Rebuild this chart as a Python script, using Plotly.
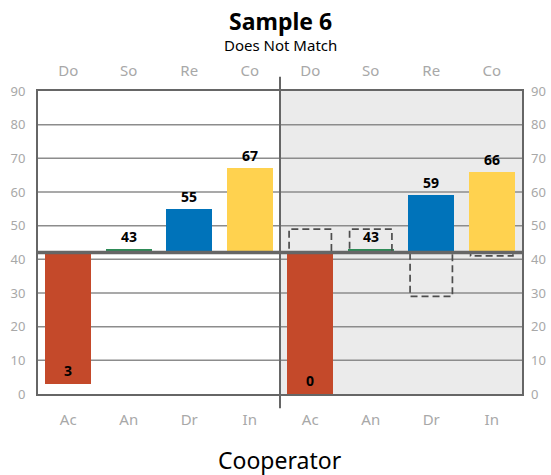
import plotly.graph_objects as go

# ---- data ----
bottom_labels = ["Ac", "An", "Dr", "In", "Ac", "An", "Dr", "In"]
top_labels = ["Do", "So", "Re", "Co", "Do", "So", "Re", "Co"]
values = [3, 43, 55, 67, 0, 43, 59, 66]
compare_values = [None, None, None, None, 49, 49, 29, 41]
bar_colors = ["#C4492A", "#2E8B57", "#0073BA", "#FFD24F",
              "#C4492A", "#2E8B57", "#0073BA", "#FFD24F"]
baseline = 42
y_ticks = [0, 10, 20, 30, 40, 50, 60, 70, 80, 90]
title = "Sample 6"
subtitle = "Does Not Match"
x_title = "Cooperator"

FONT = "Noto Sans"
xs = list(range(len(values)))
n_half = len(values) // 2

fig = go.Figure()
fig.add_trace(go.Bar(
    x=xs, y=[v - baseline for v in values], base=baseline,
    marker=dict(color=bar_colors, line=dict(width=0)),
    width=0.76, hoverinfo="skip", showlegend=False,
))
# invisible trace for top axis
fig.add_trace(go.Scatter(x=xs, y=values, xaxis="x2", yaxis="y2",
                         mode="markers", marker=dict(opacity=0),
                         hoverinfo="skip", showlegend=False))

shapes = []
# gray background for the right half
shapes.append(dict(type="rect", xref="x", yref="paper",
                   x0=n_half - 0.5, x1=len(values) - 0.5, y0=0, y1=1,
                   fillcolor="#EBEBEB", line=dict(width=0), layer="below"))
# gridlines
for t in y_ticks[1:-1]:
    shapes.append(dict(type="line", xref="paper", yref="y", x0=0, x1=1,
                       y0=t, y1=t, line=dict(color="#8C8C8C", width=1.5),
                       layer="below"))
# dashed comparison boxes
for i, cv in enumerate(compare_values):
    if cv is None:
        continue
    shapes.append(dict(type="rect", xref="x", yref="y",
                       x0=i - 0.35, x1=i + 0.35, y0=baseline, y1=cv,
                       line=dict(color="#4D4D4D", width=1.7, dash="7px,4px"),
                       fillcolor="rgba(0,0,0,0)"))
# baseline
shapes.append(dict(type="line", xref="paper", yref="y", x0=0, x1=1,
                   y0=baseline, y1=baseline,
                   line=dict(color="#666666", width=3.5)))
# center divider
shapes.append(dict(type="line", xref="x", yref="paper",
                   x0=n_half - 0.5, x1=n_half - 0.5, y0=-0.047, y1=1.047,
                   line=dict(color="#666666", width=2)))

annotations = []
for i, v in enumerate(values):
    if v >= baseline:
        annotations.append(dict(x=i, y=v, xref="x", yref="y", text=f"<b>{v}</b>",
                                showarrow=False, yanchor="bottom", yshift=1,
                                font=dict(family=FONT, size=14, color="black")))
    else:
        annotations.append(dict(x=i, y=v, xref="x", yref="y", text=f"<b>{v}</b>",
                                showarrow=False, yanchor="bottom", yshift=2,
                                font=dict(family=FONT, size=14, color="black")))
annotations.append(dict(x=0.5, y=1, xref="paper", yref="paper", yanchor="middle",
                        yshift=70, text=f"<b>{title}</b>", showarrow=False,
                        font=dict(family=FONT, size=23, color="black")))
annotations.append(dict(x=0.5, y=1, xref="paper", yref="paper", yanchor="middle",
                        yshift=46, text=subtitle, showarrow=False,
                        font=dict(family=FONT, size=15, color="black")))
annotations.append(dict(x=0.5, y=0, xref="paper", yref="paper", yanchor="middle",
                        yshift=-66, text=x_title, showarrow=False,
                        font=dict(family=FONT, size=23, color="black")))

tickfont = dict(family=FONT, size=15, color="#A8A8A8")
yfont = dict(family=FONT, size=13, color="#A8A8A8")

fig.update_layout(
    width=551, height=475,
    margin=dict(l=38, r=29, t=91, b=81, autoexpand=False),
    paper_bgcolor="white", plot_bgcolor="rgba(0,0,0,0)",
    font=dict(family=FONT),
    shapes=shapes, annotations=annotations,
    xaxis=dict(range=[-0.5, len(values) - 0.5], tickvals=xs, ticktext=bottom_labels,
               tickfont=tickfont, showgrid=False, zeroline=False, automargin=False,
               showline=True, linecolor="#666666", linewidth=2, mirror=True,
               ticks="", ticklabelstandoff=11),
    xaxis2=dict(range=[-0.5, len(values) - 0.5], tickvals=xs, ticktext=top_labels,
                tickfont=tickfont, overlaying="x", side="top", showgrid=False,
                zeroline=False, showline=False, ticks="", automargin=False,
                ticklabelstandoff=11),
    yaxis=dict(range=[0, 90], tickvals=y_ticks, tickfont=yfont, showgrid=False,
               zeroline=False, showline=True, linecolor="#666666", linewidth=2,
               mirror=True, ticks="", ticklabelstandoff=8, automargin=False),
    yaxis2=dict(range=[0, 90], tickvals=y_ticks, tickfont=yfont, overlaying="y",
                side="right", showgrid=False, zeroline=False, showline=False,
                ticks="", ticklabelstandoff=8, automargin=False),
    bargap=0,
)

fig.write_html("out.html", config={"displayModeBar": False},
               post_script="document.body.style.margin='0';")
